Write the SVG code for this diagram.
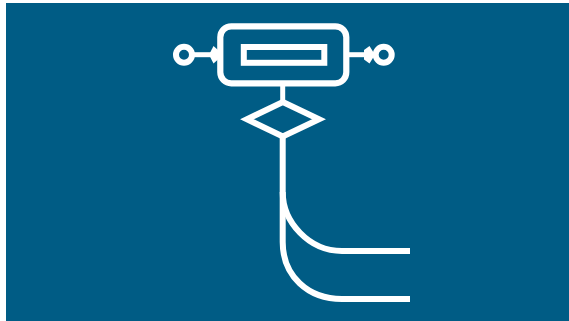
<svg xmlns="http://www.w3.org/2000/svg" width="569" height="321" viewBox="0 0 569 321">
<style>
.s{fill:none;stroke:#fff;stroke-width:6}
.c{fill:none;stroke:#fff;stroke-width:6}
.b{fill:none;stroke:#fff;stroke-width:6.200}
.t{fill:none;stroke:#fff;stroke-width:5}
.h{fill:#fff}
</style>
<rect x="0" y="0" width="569" height="321" fill="#fff"/>
<rect x="6" y="3" width="563" height="318" fill="#005c85"/>
<g id="connectors">
<path class="t" d="M192 54.700H219"/>
<path class="t" d="M347 54.700H376"/>
<path class="h" d="M209 54.700L213.500 46L218 50V59.500L213.500 63.500Z"/>
<path class="h" d="M375 54.700L369.500 46L364 50V59.500L369.500 63.500Z"/>
<path class="t" d="M282.700 85V101"/>
<path class="c" d="M282.700 137V192C282.700 222 309 251 342 251H410"/>
<path class="c" d="M282.700 192V242C282.700 276 308 299 342 299H410"/>
</g>
<g id="left-port"><circle class="s" cx="184" cy="54.700" r="8"/></g>
<g id="right-port"><circle class="s" cx="383.700" cy="54.700" r="8"/></g>
<g id="body"><rect class="b" x="220.300" y="26.300" width="126" height="57" rx="11"/></g>
<g id="slot"><rect class="s" x="243.800" y="47" width="80.500" height="15.800"/></g>
<g id="diamond"><path class="s" d="M282.800 102L319 119.300L282.800 136.500L247 119.300Z"/></g>
</svg>
